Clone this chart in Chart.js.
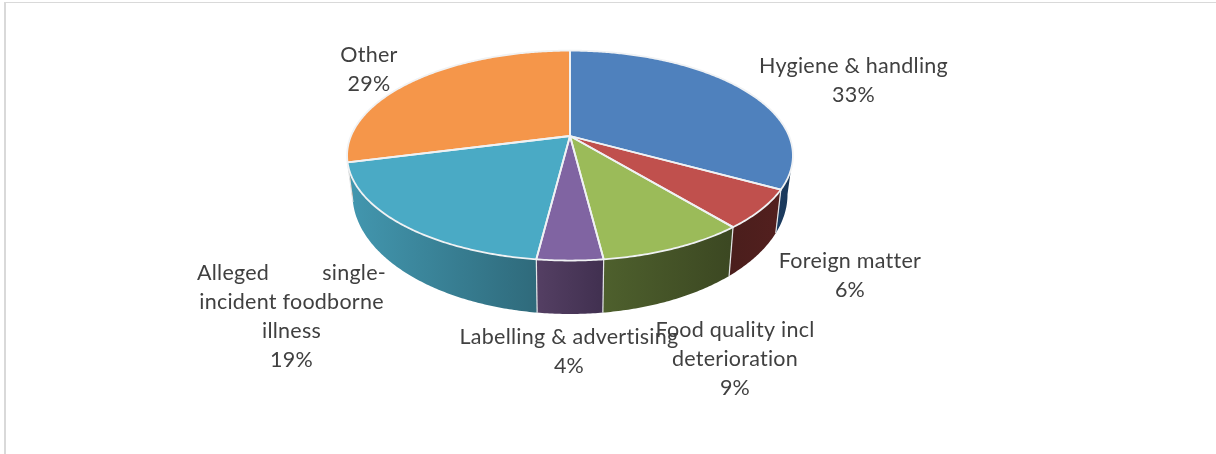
<!DOCTYPE html>
<html>
<head>
<meta charset="utf-8">
<title>Complaints by category</title>
<script src="https://cdnjs.cloudflare.com/ajax/libs/Chart.js/4.4.0/chart.umd.min.js"></script>
<style>
    html, body { margin: 0; background: #fff; }
    #wrap { position: relative; width: 1216px; height: 454px; }
</style>
</head>
<body>
<div id="wrap"><canvas id="chart" width="1216" height="454"></canvas></div>
<script>
const categories = [
    "Hygiene & handling",
    "Foreign matter",
    "Food quality incl deterioration",
    "Labelling & advertising",
    "Alleged single-incident foodborne illness",
    "Other",
]
const shares = [33, 6, 9, 4, 19, 29]

// wrapped category text, one list per slice
const labelLines = [
    ["Hygiene & handling"],
    ["Foreign matter"],
    ["Food quality incl", "deterioration"],
    ["Labelling & advertising"],
    ["Alleged single-", "incident foodborne", "illness"],
    ["Other"],
]
const labelCentres = [[853.5, 66], [850, 261], [735, 330], [569, 337], [291.5, 273], [369, 55]]

const topColors = ["#4f81bd", "#c0504d", "#9bbb59", "#8064a2", "#4aaac5", "#f5964a"]
const wallColors = [
    ["#1c3b60", "#1b3a5c"],
    ["#4a1e1c", "#521f1e"],
    ["#4e602d", "#3c4822"],
    ["#543f63", "#413050"],
    ["#4296ae", "#2f6a7b"],
    ["#a0622c", "#a0622c"],
]

// perspective of the tilted disc
const centreX = 570
const centreY = 136
const spreadX = 219
const spreadY = 101.3
const tilt = 0.1866
// lower rim of the wall
const lowerY = 172
const lowerSpreadX = 213.7
const lowerSpreadY = 115.5

const topPoint = (a) => {
    const w = 1 - tilt * Math.sin(a)
    return [centreX + spreadX * Math.cos(a) / w, centreY + spreadY * Math.sin(a) / w]
}
const lowPoint = (a) => {
    const w = 1 - tilt * Math.sin(a)
    return [centreX + lowerSpreadX * Math.cos(a) / w, lowerY + lowerSpreadY * Math.sin(a) / w]
}

const arcSteps = (start, end) => {
    const steps = Math.max(2, Math.ceil((end - start) / 0.01))
    const out = []
    for (let i = 0; i <= steps; i++) {
        out.push(start + (end - start) * i / steps)
    }
    return out
}

const pie3d = {
    id: "pie3d",
    beforeDraw(chart) {
        const ctx = chart.ctx
        ctx.save()
        ctx.fillStyle = "#d9d9d9"
        ctx.fillRect(4, 2, 1212, 1)
        ctx.fillRect(4, 2, 2, 452)
        ctx.restore()
    },
    beforeDatasetDraw(chart) {
        const ctx = chart.ctx
        const arcs = chart.getDatasetMeta(0).data
        // the wall only shows on the near side of the widest point
        const nearStart = Math.asin(tilt)
        const nearEnd = Math.PI - nearStart

        ctx.save()
        ctx.lineJoin = "round"
        arcs.forEach((arc, i) => {
            const start = Math.max(arc.startAngle, nearStart)
            const end = Math.min(arc.endAngle, nearEnd)
            if (end <= start) {
                return
            }
            const angles = arcSteps(start, end)
            const left = lowPoint(end)[0]
            const right = lowPoint(start)[0]
            const shade = ctx.createLinearGradient(left, 0, right, 0)
            shade.addColorStop(0, wallColors[i][0])
            shade.addColorStop(1, wallColors[i][1])
            ctx.beginPath()
            angles.forEach((a) => ctx.lineTo(...topPoint(a)))
            angles.slice().reverse().forEach((a) => ctx.lineTo(...lowPoint(a)))
            ctx.closePath()
            ctx.fillStyle = shade
            ctx.fill()
        })

        // seams between the walls
        ctx.strokeStyle = "#e4e6e8"
        ctx.lineWidth = 1.2
        arcs.forEach((arc) => {
            const a = arc.startAngle
            if (a > nearStart && a < nearEnd) {
                ctx.beginPath()
                ctx.moveTo(...topPoint(a))
                ctx.lineTo(...lowPoint(a))
                ctx.stroke()
            }
        })

        ctx.lineWidth = 1.8
        arcs.forEach((arc, i) => {
            ctx.beginPath()
            ctx.moveTo(centreX, centreY)
            arcSteps(arc.startAngle, arc.endAngle).forEach((a) => ctx.lineTo(...topPoint(a)))
            ctx.closePath()
            ctx.fillStyle = topColors[i]
            ctx.fill()
        })
        arcs.forEach((arc) => {
            ctx.beginPath()
            ctx.moveTo(centreX, centreY)
            arcSteps(arc.startAngle, arc.endAngle).forEach((a) => ctx.lineTo(...topPoint(a)))
            ctx.closePath()
            ctx.strokeStyle = "#f0f2f4"
            ctx.stroke()
        })
        ctx.restore()
        return false
    },
    afterDatasetsDraw(chart) {
        const ctx = chart.ctx
        ctx.save()
        ctx.font = '21.5px Lato, "Open Sans", sans-serif'
        ctx.letterSpacing = "0.25px"
        ctx.fillStyle = "#404040"
        ctx.textAlign = "center"
        ctx.textBaseline = "middle"
        shares.forEach((share, i) => {
            const [x, y] = labelCentres[i]
            const lines = labelLines[i].concat(share + "%")
            lines.forEach((line, n) => {
                // the first line of the long label is set justified
                if (line === "Alleged single-") {
                    ctx.wordSpacing = (189 - ctx.measureText(line).width) + "px"
                }
                ctx.fillText(line, x, y + n * 28.9)
                ctx.wordSpacing = "0px"
            })
        })
        ctx.restore()
    },
}

new Chart(document.getElementById("chart"), {
    type: "pie",
    data: {
        labels: categories,
        datasets: [{ data: shares, backgroundColor: topColors }],
    },
    options: {
        responsive: false,
        animation: false,
        events: [],
        plugins: {
            legend: { display: false },
            tooltip: { enabled: false },
        },
    },
    plugins: [pie3d],
})
</script>
</body>
</html>
